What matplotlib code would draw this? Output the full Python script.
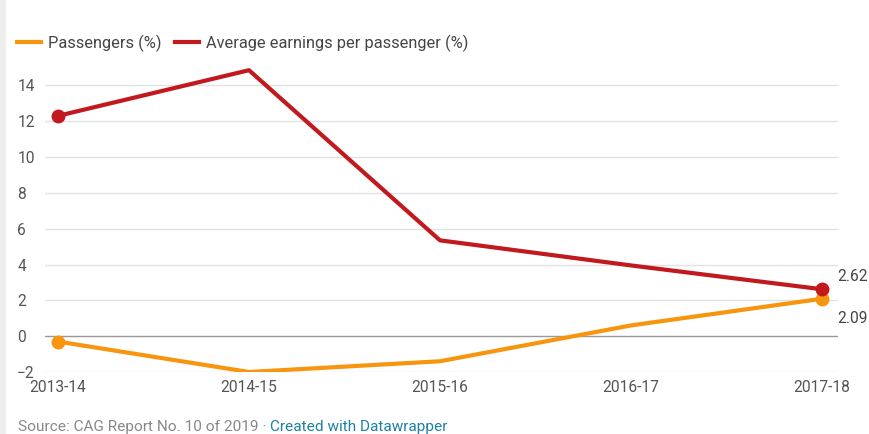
import matplotlib.pyplot as plt
from matplotlib.lines import Line2D

plt.rcParams['font.family'] = ['Roboto', 'DejaVu Sans']

years = ['2013-14', '2014-15', '2015-16', '2016-17', '2017-18']
passengers = [-0.3, -2.0, -1.4, 0.6, 2.09]
earnings = [12.3, 14.85, 5.35, 3.95, 2.62]
yticks = [-2, 0, 2, 4, 6, 8, 10, 12, 14]

orange = '#f7960e'
red = '#c2191f'
fs = 11.2

fig = plt.figure(figsize=(8.69, 4.34), dpi=100)
ax = fig.add_axes([45 / 869, 62 / 434, 793 / 869, 304.5 / 434])

x = list(range(len(years)))
ax.plot(x, passengers, color=orange, lw=3, solid_capstyle='round', zorder=3)
ax.plot(x, earnings, color=red, lw=3, solid_capstyle='round', zorder=3)
for series, c in [(passengers, orange), (earnings, red)]:
    ax.plot([x[0], x[-1]], [series[0], series[-1]], 'o', color=c, ms=9, zorder=4)

# value labels at the last point
ax.annotate(f'{earnings[-1]:.2f}', (x[-1], earnings[-1]), xytext=(11, 9),
            textcoords='offset points', va='center', ha='left', fontsize=fs, color='#444444')
ax.annotate(f'{passengers[-1]:.2f}', (x[-1], passengers[-1]), xytext=(11, -14),
            textcoords='offset points', va='center', ha='left', fontsize=fs, color='#444444')

ax.set_xlim(-0.068, 4.084)
ax.set_ylim(-2, 15)
ax.set_xticks(x)
ax.set_xticklabels(years)
ax.set_yticks(yticks)
ax.set_yticklabels([str(v).replace('-', '\u2212') for v in yticks])
ax.tick_params(axis='both', length=0, labelsize=fs, labelcolor='#555555')
ax.tick_params(axis='x', pad=6)
ax.tick_params(axis='y', pad=20)
for lab in ax.get_yticklabels():
    lab.set_horizontalalignment('left')

for v in yticks:
    ax.axhline(v, color='#999999' if v == 0 else '#e2e2e2', lw=1, zorder=1)
for s in ax.spines.values():
    s.set_visible(False)

handles = [Line2D([], [], color=orange, lw=3), Line2D([], [], color=red, lw=3)]
fig.legend(handles, ['Passengers (%)', 'Average earnings per passenger (%)'],
           loc='center left', bbox_to_anchor=(17 / 869, 1 - 43 / 434), ncol=2,
           frameon=False, fontsize=11.8, handlelength=1.45, handletextpad=0.45,
           columnspacing=0.8, labelcolor='#444444', borderaxespad=0, borderpad=0)

# source line
t = fig.text(18 / 869, 1 - 427 / 434, 'Source: CAG Report No. 10 of 2019 \u00b7 ',
             fontsize=11.1, color='#888888', va='center', ha='left')
fig.canvas.draw()
bb = t.get_window_extent()
fig.text(bb.x1 / fig.bbox.width, 1 - 427 / 434, 'Created with Datawrapper',
         fontsize=11.1, color='#1d81a2', va='center', ha='left')

# thin grey band on the left edge
fig.patches.append(plt.Rectangle((0, 0), 5 / 869, 1, transform=fig.transFigure,
                                 color='#eeeeee', zorder=0))

fig.savefig('out.png', dpi=100)
